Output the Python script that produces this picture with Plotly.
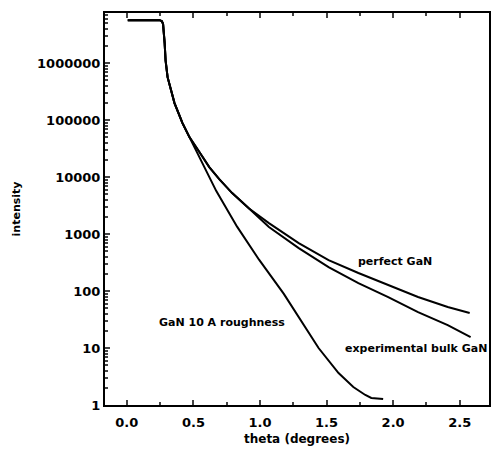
import plotly.graph_objects as go

# Shared plateau / critical-angle part (theta in degrees, intensity)
theta_common = [0.007, 0.10, 0.20, 0.246, 0.262, 0.272, 0.284, 0.291, 0.306, 0.358, 0.418, 0.455]
int_common = [5.68e6, 5.68e6, 5.68e6, 5.68e6, 5.5e6, 4.9e6, 2.24e6, 1.12e6, 5.68e5, 1.99e5, 8.86e4, 5.92e4]

# Upper branch shared by perfect and experimental curves
theta_upper = [0.470, 0.545, 0.619, 0.694, 0.791, 0.918]
int_upper = [5.03e4, 2.75e4, 1.50e4, 9.2e3, 5.24e3, 2.80e3]

theta_perfect = [1.067, 1.291, 1.515, 1.739, 1.963, 2.187, 2.410, 2.575]
int_perfect = [1.56e3, 6.95e2, 3.50e2, 2.07e2, 1.27e2, 78.5, 52.4, 41.1]

theta_exp = [1.067, 1.291, 1.515, 1.739, 1.963, 2.187, 2.410, 2.582]
int_exp = [1.33e3, 5.68e2, 2.64e2, 1.38e2, 78.5, 42.8, 25.3, 15.6]

theta_rough = [0.545, 0.672, 0.828, 0.993, 1.179, 1.440, 1.590, 1.701, 1.791, 1.836, 1.925]
int_rough = [2.15e4, 5.68e3, 1.35e3, 3.55e2, 89.0, 10.0, 3.64, 2.07, 1.50, 1.33, 1.27]

x_ticks = [0.0, 0.5, 1.0, 1.5, 2.0, 2.5]
y_ticks = [1, 10, 100, 1000, 10000, 100000, 1000000]
y_tick_text = ["1", "10", "100", "1000", "10000", "100000", "1000000"]

line = dict(color="black", width=2)
FONT = "DejaVu Sans"

fig = go.Figure()
fig.add_trace(go.Scatter(x=theta_common + theta_upper + theta_perfect,
                         y=int_common + int_upper + int_perfect,
                         mode="lines", line=line, name="perfect GaN"))
fig.add_trace(go.Scatter(x=theta_common + theta_upper + theta_exp,
                         y=int_common + int_upper + int_exp,
                         mode="lines", line=line, name="experimental bulk GaN"))
fig.add_trace(go.Scatter(x=theta_common + theta_rough, y=int_common + int_rough,
                         mode="lines", line=line, name="GaN 10 A roughness"))

fig.update_layout(
    width=491, height=453,
    margin=dict(l=105, r=0, t=13, b=48),
    paper_bgcolor="white", plot_bgcolor="white",
    showlegend=False,
    font=dict(family=FONT, color="black"),
    annotations=[
        dict(x=2.015, y=2.51, xref="x", yref="y", text="<b>perfect GaN</b>", showarrow=False,
             font=dict(size=11, family=FONT)),
        dict(x=2.17, y=1.0, xref="x", yref="y", text="<b>experimental bulk GaN</b>", showarrow=False,
             font=dict(size=11, family=FONT)),
        dict(x=0.716, y=1.456, xref="x", yref="y", text="<b>GaN 10 A roughness</b>", showarrow=False,
             font=dict(size=11, family=FONT)),
    ],
)

fig.update_xaxes(
    range=[-0.164, 2.72], tickvals=x_ticks, ticktext=["<b>%.1f</b>" % v for v in x_ticks],
    ticks="inside", ticklen=5, tickwidth=2, showgrid=False, zeroline=False,
    showline=True, linecolor="black", linewidth=2, mirror="ticks",
    tickfont=dict(size=13, family=FONT), ticklabelstandoff=4,
    minor=dict(ticks="inside", ticklen=3, tickwidth=1.5, dtick=0.25, showgrid=False),
    title=dict(text="<b>theta (degrees)</b>", font=dict(size=12, family=FONT), standoff=6),
)
fig.update_yaxes(
    type="log", range=[0, 6.88], tickvals=y_ticks,
    ticktext=["<b>%s</b>" % t for t in y_tick_text],
    ticks="inside", ticklen=5, tickwidth=2, showgrid=False, zeroline=False,
    showline=True, linecolor="black", linewidth=2, mirror=True,
    tickfont=dict(size=13, family=FONT),
    minor=dict(ticks="inside", ticklen=3, tickwidth=1.5, dtick="D1", showgrid=False),
    title=dict(text="<b>intensity</b>", font=dict(size=11, family=FONT), standoff=14),
)

fig.write_html("out.html")
